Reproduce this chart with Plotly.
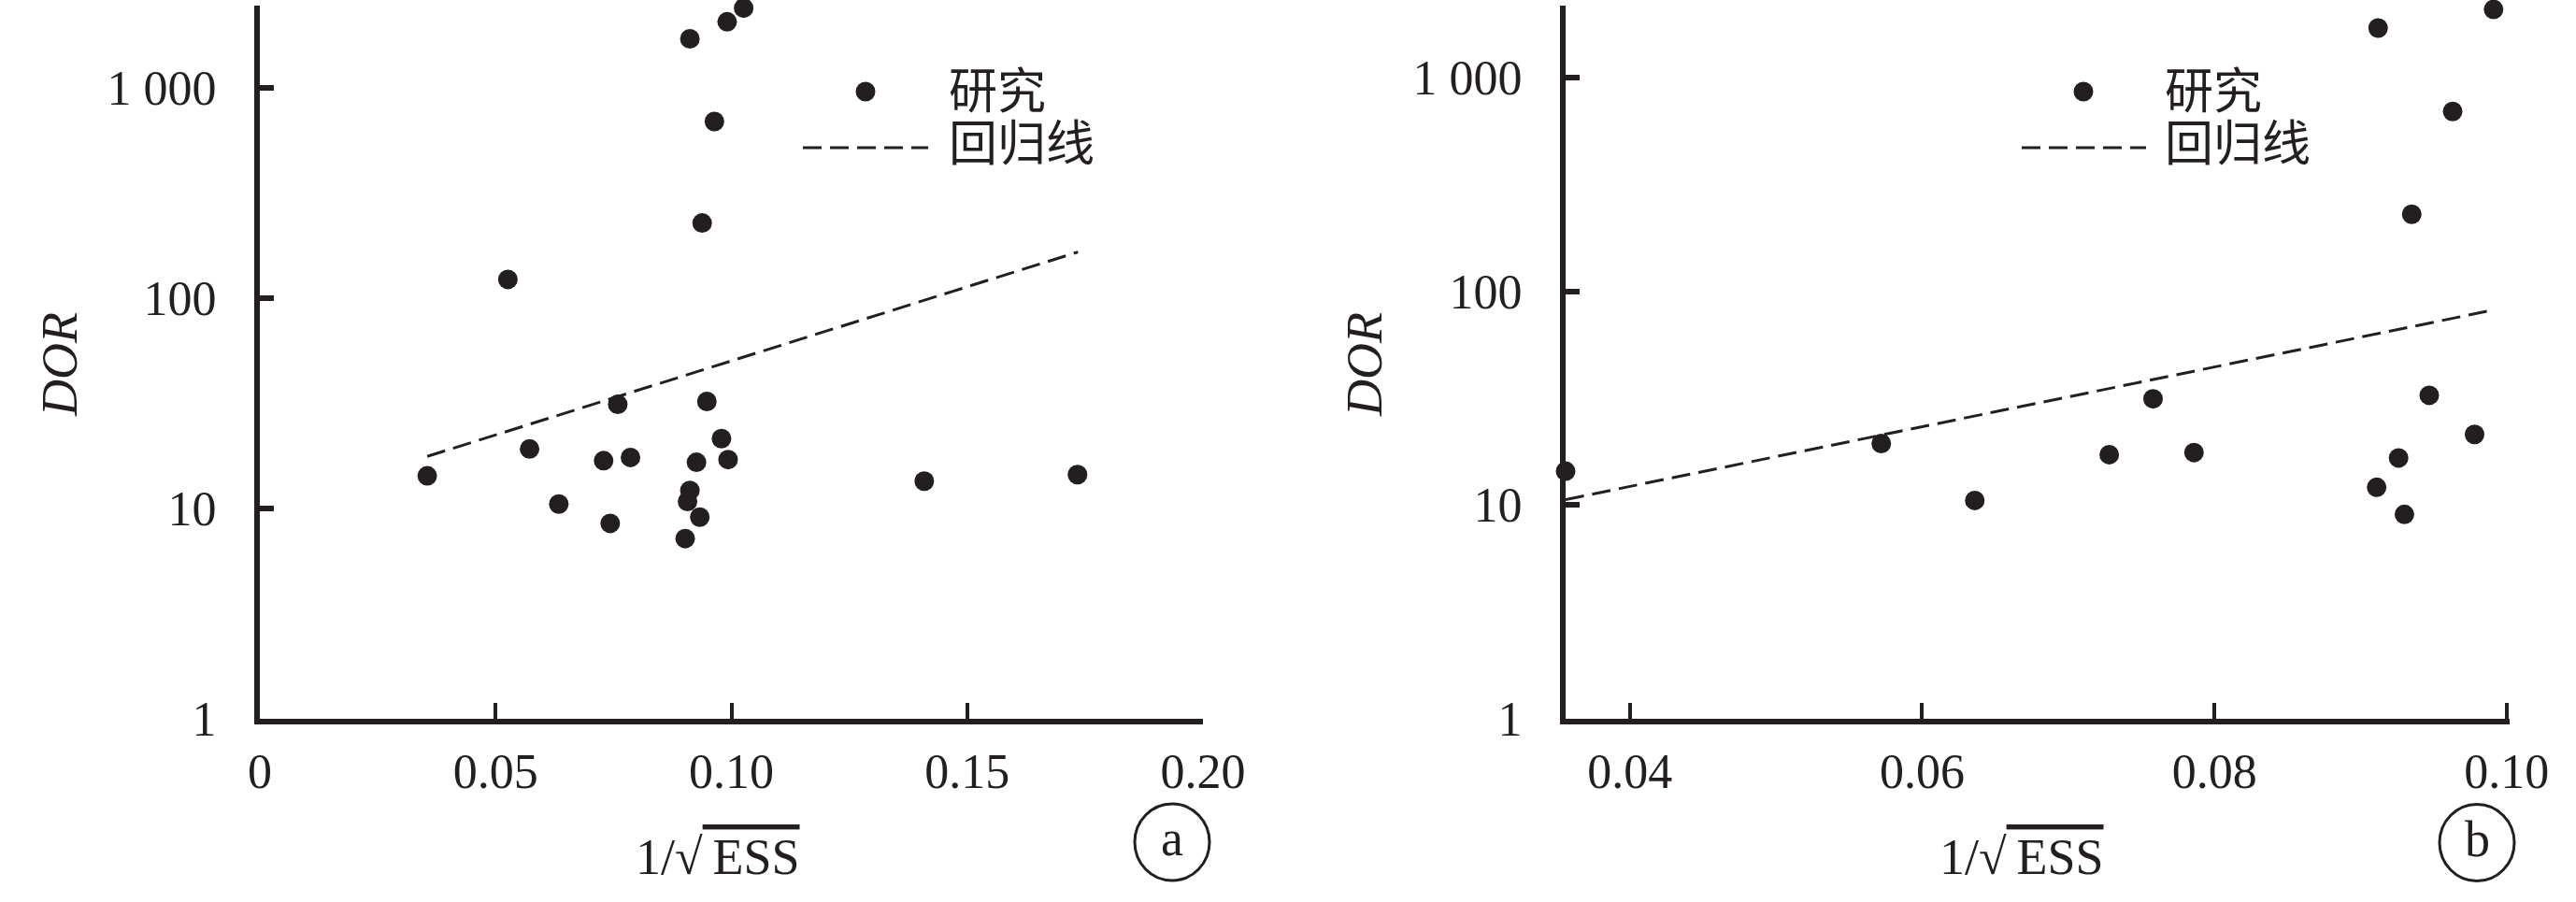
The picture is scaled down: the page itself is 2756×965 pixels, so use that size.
import plotly.graph_objects as go

W, H = 2756, 965
INK = "#231f20"
SERIF = "Liberation Serif, Times New Roman, serif"
CJK = "Noto Sans CJK SC"

# ---------------- data ----------------
# panel a (all studies)
x_a = [0.1026, 0.0991, 0.0912, 0.0964, 0.0938, 0.0526, 0.0759, 0.0948, 0.0572, 0.0979,
       0.0729, 0.0786, 0.0926, 0.0993, 0.0355, 0.1409, 0.1734, 0.0912, 0.0907, 0.0634,
       0.0743, 0.0933, 0.0902]
dor_a = [2400, 2065, 1714, 693, 228, 123, 31.3, 32.3, 19.2, 21.5,
         16.9, 17.5, 16.6, 17.1, 14.3, 13.5, 14.5, 12.2, 10.8, 10.5,
         8.5, 9.1, 7.2]
reg_a_x = [0.0355, 0.1735]
reg_a_y = [17.7, 166]

# panel b
x_b = [0.0991, 0.0912, 0.0963, 0.0935, 0.0758, 0.0947, 0.0572, 0.0978, 0.0728, 0.0786,
       0.0926, 0.0356, 0.0911, 0.0636, 0.0930]
dor_b = [2080, 1703, 693, 229, 31.4, 32.6, 19.4, 21.4, 17.2, 17.6,
         16.6, 14.4, 12.1, 10.5, 9.04]
reg_b_x = [0.0356, 0.0992]
reg_b_y = [10.6, 82]

# ticks
xt_a_vals = [0, 0.05, 0.10, 0.15, 0.20]
xt_a_text = ["0", "0.05", "0.10", "0.15", "0.20"]
xt_b_vals = [0.04, 0.06, 0.08, 0.10]
xt_b_text = ["0.04", "0.06", "0.08", "0.10"]
yt_vals = [1, 10, 100, 1000]
yt_text = ["1", "10", "100", "1 000"]

legend_study = "研究"
legend_reg = "回归线"
y_title = "DOR"
x_title = "1/√<span style='text-decoration:overline'>\u2009ESS</span>"
panel_labels = ["a", "b"]


def px(x):
    return x / W


def py(y):
    return 1 - y / H


fig = go.Figure()

fig.add_trace(go.Scatter(x=x_a, y=dor_a, mode="markers", xaxis="x", yaxis="y",
                         marker=dict(size=21, color=INK), cliponaxis=False,
                         name=legend_study, showlegend=False))
fig.add_trace(go.Scatter(x=reg_a_x, y=reg_a_y, mode="lines", xaxis="x", yaxis="y",
                         line=dict(color=INK, width=3, dash="20px,9px"),
                         name=legend_reg, showlegend=False))
fig.add_trace(go.Scatter(x=x_b, y=dor_b, mode="markers", xaxis="x2", yaxis="y2",
                         marker=dict(size=21, color=INK), cliponaxis=False,
                         name=legend_study, showlegend=False))
fig.add_trace(go.Scatter(x=reg_b_x, y=reg_b_y, mode="lines", xaxis="x2", yaxis="y2",
                         line=dict(color=INK, width=3, dash="20px,9px"),
                         name=legend_reg, showlegend=False))

ydom = [py(769), py(6)]
tickfont = dict(family=SERIF, size=52, color=INK)

common_x = dict(showline=True, linewidth=6, linecolor=INK, ticks="inside", ticklen=17,
                tickwidth=4, tickcolor=INK, showgrid=False, zeroline=False,
                tickfont=tickfont, ticklabelstandoff=6, automargin=False)
common_y = dict(type="log", showline=True, linewidth=6, linecolor=INK, ticks="inside",
                ticklen=15, tickwidth=6, tickcolor=INK, showgrid=False, zeroline=False,
                tickvals=yt_vals, ticktext=yt_text, tickfont=tickfont,
                ticklabelstandoff=30, automargin=False)

fig.update_layout(
    width=W, height=H,
    margin=dict(l=0, r=0, t=0, b=0, autoexpand=False),
    paper_bgcolor="white", plot_bgcolor="white",
    showlegend=False,
    xaxis=dict(domain=[px(278), px(1287)], range=[0, 0.2], anchor="y",
               tickvals=xt_a_vals, ticktext=xt_a_text, **common_x),
    yaxis=dict(domain=ydom, range=[0, 3.392], anchor="x", **common_y),
    xaxis2=dict(domain=[px(1675), px(2685)], range=[0.0356, 0.1002], anchor="y2",
                tickvals=xt_b_vals, ticktext=xt_b_text, **common_x),
    yaxis2=dict(domain=ydom, range=[0, 3.336], anchor="x2", **common_y),
)

annotations = []
shapes = []

# axis titles and panel labels
for cx_title, cx_y, (ccx, ccy), lab in [(768, 64, (1254, 901), panel_labels[0]),
                                        (2163, 1460, (2650, 901.5), panel_labels[1])]:
    annotations.append(dict(x=px(cx_y), y=py(390), xref="paper", yref="paper",
                            text="<i>" + y_title + "</i>", textangle=-90, showarrow=False,
                            font=dict(family=SERIF, size=54, color=INK),
                            xanchor="center", yanchor="middle"))
    annotations.append(dict(x=px(cx_title), y=py(917), xref="paper", yref="paper",
                            text=x_title, showarrow=False,
                            font=dict(family=SERIF, size=54, color=INK),
                            xanchor="center", yanchor="middle"))
    shapes.append(dict(type="circle", xref="paper", yref="paper",
                       xsizemode="pixel", ysizemode="pixel",
                       xanchor=px(ccx), yanchor=py(ccy),
                       x0=-40, x1=40, y0=-41, y1=41,
                       line=dict(color=INK, width=3)))
    annotations.append(dict(x=px(ccx), y=py(ccy - 4), xref="paper", yref="paper",
                            text=lab, showarrow=False, height=50,
                            font=dict(family=SERIF, size=54, color=INK),
                            xanchor="center", yanchor="middle"))

# manual legends
for mx, lx0, lx1, tx in [(926, 859, 993, 1013), (2229, 2163, 2296, 2314)]:
    shapes.append(dict(type="circle", xref="paper", yref="paper",
                       xsizemode="pixel", ysizemode="pixel",
                       xanchor=px(mx), yanchor=py(98),
                       x0=-10.5, x1=10.5, y0=-10.5, y1=10.5,
                       fillcolor=INK, line=dict(width=0)))
    shapes.append(dict(type="line", xref="paper", yref="paper",
                       x0=px(lx0), x1=px(lx1), y0=py(158), y1=py(158),
                       line=dict(color=INK, width=3, dash="20px,9px")))
    annotations.append(dict(x=px(tx), y=py(94), xref="paper", yref="paper",
                            text=legend_study, showarrow=False,
                            font=dict(family=CJK, size=52, color=INK),
                            xanchor="left", yanchor="middle"))
    annotations.append(dict(x=px(tx), y=py(149), xref="paper", yref="paper",
                            text=legend_reg, showarrow=False,
                            font=dict(family=CJK, size=52, color=INK),
                            xanchor="left", yanchor="middle"))

fig.update_layout(annotations=annotations, shapes=shapes)

fig.write_html("out.html",
               config={"displayModeBar": False},
               post_script="document.body.style.margin='0';"
                           "document.body.style.overflow='hidden';")
